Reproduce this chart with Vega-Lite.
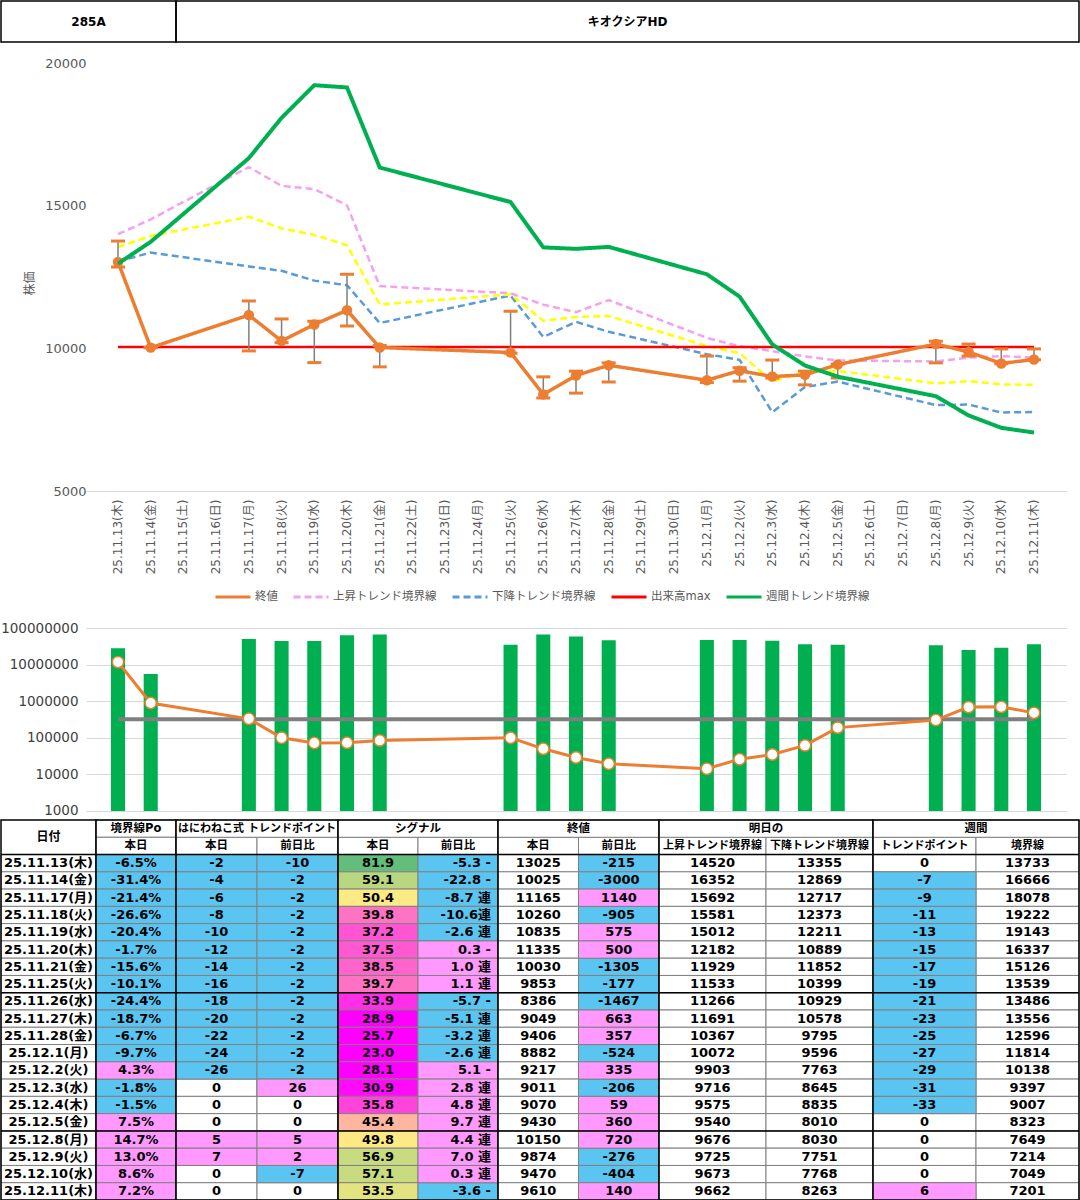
{
"$schema":"https://vega.github.io/schema/vega-lite/v6.json",
"padding":0,
"spacing":0,
"config":{
 "view":{"stroke":null},
 "font":"DejaVu Sans, Noto Sans CJK JP",
 "text":{"font":"DejaVu Sans, Noto Sans CJK JP","fontSize":13,"fontWeight":"bold","color":"#000000"},
 "axis":{"labelFont":"DejaVu Sans, Noto Sans CJK JP","titleFont":"DejaVu Sans, Noto Sans CJK JP"},
 "legend":{"labelFont":"DejaVu Sans, Noto Sans CJK JP"}
},
"datasets":{
 "px":[
  {"d":"25.11.13(木)","終値":13025,"上昇トレンド境界線":14000,"下降トレンド境界線":13050,"中値":13550,"出来高max":10050,"週間トレンド境界線":12967,"hi":13760,"lo":12850,"vol":28000000,"vl":11700000},
  {"d":"25.11.14(金)","終値":10025,"上昇トレンド境界線":14520,"下降トレンド境界線":13355,"中値":13938,"出来高max":10050,"週間トレンド境界線":13733,"hi":10025,"lo":10025,"vol":5500000,"vl":890000},
  {"d":"25.11.17(月)","終値":11165,"上昇トレンド境界線":16352,"下降トレンド境界線":12869,"中値":14611,"出来高max":10050,"週間トレンド境界線":16666,"hi":11660,"lo":9910,"vol":50000000,"vl":330000},
  {"d":"25.11.18(火)","終値":10260,"上昇トレンド境界線":15692,"下降トレンド境界線":12717,"中値":14205,"出来高max":10050,"週間トレンド境界線":18078,"hi":11030,"lo":10200,"vol":44000000,"vl":100000},
  {"d":"25.11.19(水)","終値":10835,"上昇トレンド境界線":15581,"下降トレンド境界線":12373,"中値":13977,"出来高max":10050,"週間トレンド境界線":19222,"hi":10950,"lo":9500,"vol":44000000,"vl":72000},
  {"d":"25.11.20(木)","終値":11335,"上昇トレンド境界線":15012,"下降トレンド境界線":12211,"中値":13612,"出来高max":10050,"週間トレンド境界線":19143,"hi":12600,"lo":10780,"vol":63000000,"vl":73000},
  {"d":"25.11.21(金)","終値":10030,"上昇トレンド境界線":12182,"下降トレンド境界線":10889,"中値":11536,"出来高max":10050,"週間トレンド境界線":16337,"hi":10100,"lo":9350,"vol":66000000,"vl":85000},
  {"d":"25.11.25(火)","終値":9853,"上昇トレンド境界線":11929,"下降トレンド境界線":11852,"中値":11891,"出来高max":10050,"週間トレンド境界線":15126,"hi":11300,"lo":9830,"vol":35000000,"vl":100000},
  {"d":"25.11.26(水)","終値":8386,"上昇トレンド境界線":11533,"下降トレンド境界線":10399,"中値":10966,"出来高max":10050,"週間トレンド境界線":13539,"hi":9000,"lo":8260,"vol":66000000,"vl":50000},
  {"d":"25.11.27(木)","終値":9049,"上昇トレンド境界線":11266,"下降トレンド境界線":10929,"中値":11098,"出来高max":10050,"週間トレンド境界線":13486,"hi":9200,"lo":8430,"vol":59000000,"vl":29000},
  {"d":"25.11.28(金)","終値":9406,"上昇トレンド境界線":11691,"下降トレンド境界線":10578,"中値":11135,"出来高max":10050,"週間トレンド境界線":13556,"hi":9490,"lo":8820,"vol":46000000,"vl":19500},
  {"d":"25.12.1(月)","終値":8882,"上昇トレンド境界線":10367,"下降トレンド境界線":9795,"中値":10081,"出来高max":10050,"週間トレンド境界線":12596,"hi":9730,"lo":8800,"vol":47000000,"vl":14300},
  {"d":"25.12.2(火)","終値":9217,"上昇トレンド境界線":10072,"下降トレンド境界線":9596,"中値":9834,"出来高max":10050,"週間トレンド境界線":11814,"hi":9320,"lo":8850,"vol":47000000,"vl":26000},
  {"d":"25.12.3(水)","終値":9011,"上昇トレンド境界線":9903,"下降トレンド境界線":7763,"中値":8833,"出来高max":10050,"週間トレンド境界線":10138,"hi":9590,"lo":8960,"vol":45000000,"vl":35000},
  {"d":"25.12.4(木)","終値":9070,"上昇トレンド境界線":9716,"下降トレンド境界線":8645,"中値":9181,"出来高max":10050,"週間トレンド境界線":9397,"hi":9200,"lo":8720,"vol":36000000,"vl":62000},
  {"d":"25.12.5(金)","終値":9430,"上昇トレンド境界線":9575,"下降トレンド境界線":8835,"中値":9205,"出来高max":10050,"週間トレンド境界線":9007,"hi":9450,"lo":8960,"vol":35000000,"vl":190000},
  {"d":"25.12.8(月)","終値":10150,"上昇トレンド境界線":9540,"下降トレンド境界線":8010,"中値":8775,"出来高max":10050,"週間トレンド境界線":8323,"hi":10250,"lo":9490,"vol":34000000,"vl":306000},
  {"d":"25.12.9(火)","終値":9874,"上昇トレンド境界線":9676,"下降トレンド境界線":8030,"中値":8853,"出来高max":10050,"週間トレンド境界線":7649,"hi":10150,"lo":9730,"vol":25000000,"vl":690000},
  {"d":"25.12.10(水)","終値":9470,"上昇トレンド境界線":9725,"下降トレンド境界線":7751,"中値":8738,"出来高max":10050,"週間トレンド境界線":7214,"hi":9980,"lo":9460,"vol":29000000,"vl":700000},
  {"d":"25.12.11(木)","終値":9610,"上昇トレンド境界線":9673,"下降トレンド境界線":7768,"中値":8721,"出来高max":10050,"週間トレンド境界線":7049,"hi":9980,"lo":9600,"vol":36000000,"vl":480000}
 ],
 "tb":[
  {"i":1,"d":"25.11.13(木)","po":"-6.5%","hn":-2,"hd":-10,"sg":81.9,"sd":"-5.3 -","cl":13025,"cd":-215,"up":14520,"dn":13355,"wt":0,"wl":13733},
  {"i":2,"d":"25.11.14(金)","po":"-31.4%","hn":-4,"hd":-2,"sg":59.1,"sd":"-22.8 -","cl":10025,"cd":-3000,"up":16352,"dn":12869,"wt":-7,"wl":16666},
  {"i":3,"d":"25.11.17(月)","po":"-21.4%","hn":-6,"hd":-2,"sg":50.4,"sd":"-8.7 連","cl":11165,"cd":1140,"up":15692,"dn":12717,"wt":-9,"wl":18078},
  {"i":4,"d":"25.11.18(火)","po":"-26.6%","hn":-8,"hd":-2,"sg":39.8,"sd":"-10.6連","cl":10260,"cd":-905,"up":15581,"dn":12373,"wt":-11,"wl":19222},
  {"i":5,"d":"25.11.19(水)","po":"-20.4%","hn":-10,"hd":-2,"sg":37.2,"sd":"-2.6 連","cl":10835,"cd":575,"up":15012,"dn":12211,"wt":-13,"wl":19143},
  {"i":6,"d":"25.11.20(木)","po":"-1.7%","hn":-12,"hd":-2,"sg":37.5,"sd":"0.3 -","cl":11335,"cd":500,"up":12182,"dn":10889,"wt":-15,"wl":16337},
  {"i":7,"d":"25.11.21(金)","po":"-15.6%","hn":-14,"hd":-2,"sg":38.5,"sd":"1.0 連","cl":10030,"cd":-1305,"up":11929,"dn":11852,"wt":-17,"wl":15126},
  {"i":8,"d":"25.11.25(火)","po":"-10.1%","hn":-16,"hd":-2,"sg":39.7,"sd":"1.1 連","cl":9853,"cd":-177,"up":11533,"dn":10399,"wt":-19,"wl":13539},
  {"i":9,"d":"25.11.26(水)","po":"-24.4%","hn":-18,"hd":-2,"sg":33.9,"sd":"-5.7 -","cl":8386,"cd":-1467,"up":11266,"dn":10929,"wt":-21,"wl":13486},
  {"i":10,"d":"25.11.27(木)","po":"-18.7%","hn":-20,"hd":-2,"sg":28.9,"sd":"-5.1 連","cl":9049,"cd":663,"up":11691,"dn":10578,"wt":-23,"wl":13556},
  {"i":11,"d":"25.11.28(金)","po":"-6.7%","hn":-22,"hd":-2,"sg":25.7,"sd":"-3.2 連","cl":9406,"cd":357,"up":10367,"dn":9795,"wt":-25,"wl":12596},
  {"i":12,"d":"25.12.1(月)","po":"-9.7%","hn":-24,"hd":-2,"sg":23.0,"sd":"-2.6 連","cl":8882,"cd":-524,"up":10072,"dn":9596,"wt":-27,"wl":11814},
  {"i":13,"d":"25.12.2(火)","po":"4.3%","hn":-26,"hd":-2,"sg":28.1,"sd":"5.1 -","cl":9217,"cd":335,"up":9903,"dn":7763,"wt":-29,"wl":10138},
  {"i":14,"d":"25.12.3(水)","po":"-1.8%","hn":0,"hd":26,"sg":30.9,"sd":"2.8 連","cl":9011,"cd":-206,"up":9716,"dn":8645,"wt":-31,"wl":9397},
  {"i":15,"d":"25.12.4(木)","po":"-1.5%","hn":0,"hd":0,"sg":35.8,"sd":"4.8 連","cl":9070,"cd":59,"up":9575,"dn":8835,"wt":-33,"wl":9007},
  {"i":16,"d":"25.12.5(金)","po":"7.5%","hn":0,"hd":0,"sg":45.4,"sd":"9.7 連","cl":9430,"cd":360,"up":9540,"dn":8010,"wt":0,"wl":8323},
  {"i":17,"d":"25.12.8(月)","po":"14.7%","hn":5,"hd":5,"sg":49.8,"sd":"4.4 連","cl":10150,"cd":720,"up":9676,"dn":8030,"wt":0,"wl":7649},
  {"i":18,"d":"25.12.9(火)","po":"13.0%","hn":7,"hd":2,"sg":56.9,"sd":"7.0 連","cl":9874,"cd":-276,"up":9725,"dn":7751,"wt":0,"wl":7214},
  {"i":19,"d":"25.12.10(水)","po":"8.6%","hn":0,"hd":-7,"sg":57.1,"sd":"0.3 連","cl":9470,"cd":-404,"up":9673,"dn":7768,"wt":0,"wl":7049},
  {"i":20,"d":"25.12.11(木)","po":"7.2%","hn":0,"hd":0,"sg":53.5,"sd":"-3.6 -","cl":9610,"cd":140,"up":9662,"dn":8263,"wt":6,"wl":7201}
 ],
 "hd":[
  {"g":"A","r":0,"t":"日付"},
  {"g":"B1","r":-1,"t":"境界線Po"},{"g":"B1","r":0,"t":"本日"},
  {"g":"B2","r":-1,"t":"はにわねこ式 トレンドポイント"},{"g":"B2","r":0,"c":"hn","t":"本日"},{"g":"B2","r":0,"c":"hd","t":"前日比"},
  {"g":"B3","r":-1,"t":"シグナル"},{"g":"B3","r":0,"c":"sg","t":"本日"},{"g":"B3","r":0,"c":"sd","t":"前日比"},
  {"g":"B4","r":-1,"t":"終値"},{"g":"B4","r":0,"c":"cl","t":"本日"},{"g":"B4","r":0,"c":"cd","t":"前日比"},
  {"g":"C","r":-1,"t":"明日の"},{"g":"C","r":0,"c":"up","t":"上昇トレンド境界線"},{"g":"C","r":0,"c":"dn","t":"下降トレンド境界線"},
  {"g":"D","r":-1,"t":"週間"},{"g":"D","r":0,"c":"wt","t":"トレンドポイント"},{"g":"D","r":0,"c":"wl","t":"境界線"}
 ],
 "sep":[{"r":1},{"r":9},{"r":17}]
},
"vconcat":[
 {"hconcat":[
   {"width":175,"height":41,"layer":[
     {"data":{"values":[{"t":"285A"}]},"mark":{"type":"text","fontSize":12},"encoding":{"text":{"field":"t","type":"nominal"}}},
     {"data":{"values":[{}]},"mark":{"type":"rect","filled":false,"stroke":"#000000","strokeWidth":1.5},"encoding":{}}
   ]},
   {"width":903,"height":41,"layer":[
     {"data":{"values":[{"t":"キオクシアHD"}]},"mark":{"type":"text","fontSize":12},"encoding":{"text":{"field":"t","type":"nominal"}}},
     {"data":{"values":[{}]},"mark":{"type":"rect","filled":false,"stroke":"#000000","strokeWidth":1.5},"encoding":{}}
   ]}
 ],"spacing":0,"bounds":"flush"},
 {"hconcat":[
 {"width":85,"height":10,"data":{"values":[{}]},"mark":{"type":"rect","opacity":0},"encoding":{}},
 {"vconcat":[
  {"width":980,"height":448,"data":{"name":"px"},
   "encoding":{"x":{"field":"d","type":"nominal","scale":{"type":"band","domain":["25.11.13(木)","25.11.14(金)","25.11.15(土)","25.11.16(日)","25.11.17(月)","25.11.18(火)","25.11.19(水)","25.11.20(木)","25.11.21(金)","25.11.22(土)","25.11.23(日)","25.11.24(月)","25.11.25(火)","25.11.26(水)","25.11.27(木)","25.11.28(金)","25.11.29(土)","25.11.30(日)","25.12.1(月)","25.12.2(火)","25.12.3(水)","25.12.4(木)","25.12.5(金)","25.12.6(土)","25.12.7(日)","25.12.8(月)","25.12.9(火)","25.12.10(水)","25.12.11(木)"],"paddingInner":0.57,"paddingOuter":0.7634,"round":false},"axis":{"title":null,"labelAngle":-90,"ticks":false,"domain":true,"domainColor":"#D9D9D9","labelPadding":8,"labelFontSize":12,"labelColor":"#595959","labelOverlap":false}}},
   "layer":[
    {"transform":[{"fold":["上昇トレンド境界線","下降トレンド境界線","中値","出来高max"],"as":["s","v"]}],
     "mark":{"type":"line","strokeWidth":2.5},
     "encoding":{"y":{"field":"v","type":"quantitative","scale":{"domain":[5000,20701],"nice":false,"zero":false},"axis":{"title":"株価","values":[5000,10000,15000,20000],"format":"d","grid":false,"ticks":false,"domain":false,"labelPadding":0,"labelFontSize":13,"labelColor":"#595959","titleFontSize":12,"titleColor":"#595959","titleFontWeight":"normal","titleX":-57,"titleY":240,"titleAngle":-90,"titleAlign":"center","titleBaseline":"middle"}},
      "color":{"field":"s","type":"nominal","scale":{"domain":["終値","上昇トレンド境界線","下降トレンド境界線","出来高max","週間トレンド境界線","中値"],"range":["#ED7D31","#F5A0F0","#5B9BD5","#FF0000","#00B050","#FFFF00"]},"legend":null},
      "strokeDash":{"field":"s","type":"nominal","scale":{"domain":["終値","上昇トレンド境界線","下降トレンド境界線","出来高max","週間トレンド境界線","中値"],"range":[[1,0],[7,4],[7,4],[1,0],[1,0],[7,4]]},"legend":{"values":["終値","上昇トレンド境界線","下降トレンド境界線","出来高max","週間トレンド境界線"],"orient":"none","legendX":213,"legendY":577,"direction":"horizontal","columns":5,"title":null,"symbolType":"stroke","symbolSize":1225,"symbolStrokeWidth":3,"labelFontSize":11.5,"labelColor":"#595959","columnPadding":9,"labelOffset":3,"padding":0,
        "encode":{"symbols":{"update":{"stroke":{"signal":"datum.value==='終値'?'#ED7D31':datum.value==='上昇トレンド境界線'?'#F5A0F0':datum.value==='下降トレンド境界線'?'#5B9BD5':datum.value==='出来高max'?'#FF0000':'#00B050'"}}}}}},
      "order":{"value":null}}},
    {"mark":{"type":"rule","color":"#7F7F7F","strokeWidth":1.5},
     "encoding":{"y":{"field":"lo","type":"quantitative","scale":{"domain":[5000,20701],"nice":false,"zero":false},"axis":{"title":"株価","values":[5000,10000,15000,20000],"format":"d","grid":false,"ticks":false,"domain":false,"labelPadding":0,"labelFontSize":13,"labelColor":"#595959","titleFontSize":12,"titleColor":"#595959","titleFontWeight":"normal","titleX":-57,"titleY":240,"titleAngle":-90,"titleAlign":"center","titleBaseline":"middle"}},"y2":{"field":"hi"}}},
    {"transform":[{"fold":["終値"],"as":["s","v"]}],
     "mark":{"type":"line","strokeWidth":3.5},
     "encoding":{"y":{"field":"v","type":"quantitative","scale":{"domain":[5000,20701],"nice":false,"zero":false},"axis":{"title":"株価","values":[5000,10000,15000,20000],"format":"d","grid":false,"ticks":false,"domain":false,"labelPadding":0,"labelFontSize":13,"labelColor":"#595959","titleFontSize":12,"titleColor":"#595959","titleFontWeight":"normal","titleX":-57,"titleY":240,"titleAngle":-90,"titleAlign":"center","titleBaseline":"middle"}},
      "color":{"field":"s","type":"nominal","scale":{"domain":["終値","上昇トレンド境界線","下降トレンド境界線","出来高max","週間トレンド境界線","中値"],"range":["#ED7D31","#F5A0F0","#5B9BD5","#FF0000","#00B050","#FFFF00"]},"legend":null},
      "strokeDash":{"field":"s","type":"nominal","scale":{"domain":["終値","上昇トレンド境界線","下降トレンド境界線","出来高max","週間トレンド境界線","中値"],"range":[[1,0],[7,4],[7,4],[1,0],[1,0],[7,4]]}},
      "order":{"value":null}}},
    {"transform":[{"fold":["hi","lo"],"as":["cap","cv"]}],
     "mark":{"type":"tick","color":"#ED7D31","thickness":3,"size":14,"opacity":1},
     "encoding":{"y":{"field":"cv","type":"quantitative","scale":{"domain":[5000,20701],"nice":false,"zero":false},"axis":{"title":"株価","values":[5000,10000,15000,20000],"format":"d","grid":false,"ticks":false,"domain":false,"labelPadding":0,"labelFontSize":13,"labelColor":"#595959","titleFontSize":12,"titleColor":"#595959","titleFontWeight":"normal","titleX":-57,"titleY":240,"titleAngle":-90,"titleAlign":"center","titleBaseline":"middle"}}}},
    {"mark":{"type":"point","filled":true,"color":"#ED7D31","size":110,"opacity":1},
     "encoding":{"y":{"field":"終値","type":"quantitative","scale":{"domain":[5000,20701],"nice":false,"zero":false},"axis":{"title":"株価","values":[5000,10000,15000,20000],"format":"d","grid":false,"ticks":false,"domain":false,"labelPadding":0,"labelFontSize":13,"labelColor":"#595959","titleFontSize":12,"titleColor":"#595959","titleFontWeight":"normal","titleX":-57,"titleY":240,"titleAngle":-90,"titleAlign":"center","titleBaseline":"middle"}}}},
    {"transform":[{"fold":["週間トレンド境界線"],"as":["s","v"]}],
     "mark":{"type":"line","strokeWidth":4},
     "encoding":{"y":{"field":"v","type":"quantitative","scale":{"domain":[5000,20701],"nice":false,"zero":false},"axis":{"title":"株価","values":[5000,10000,15000,20000],"format":"d","grid":false,"ticks":false,"domain":false,"labelPadding":0,"labelFontSize":13,"labelColor":"#595959","titleFontSize":12,"titleColor":"#595959","titleFontWeight":"normal","titleX":-57,"titleY":240,"titleAngle":-90,"titleAlign":"center","titleBaseline":"middle"}},
      "color":{"field":"s","type":"nominal","scale":{"domain":["終値","上昇トレンド境界線","下降トレンド境界線","出来高max","週間トレンド境界線","中値"],"range":["#ED7D31","#F5A0F0","#5B9BD5","#FF0000","#00B050","#FFFF00"]},"legend":null},
      "strokeDash":{"field":"s","type":"nominal","scale":{"domain":["終値","上昇トレンド境界線","下降トレンド境界線","出来高max","週間トレンド境界線","中値"],"range":[[1,0],[7,4],[7,4],[1,0],[1,0],[7,4]]}},
      "order":{"value":null}}}
   ]},
  {"width":980,"height":206,"data":{"name":"px"},
   "encoding":{"x":{"field":"d","type":"nominal","scale":{"type":"band","domain":["25.11.13(木)","25.11.14(金)","25.11.15(土)","25.11.16(日)","25.11.17(月)","25.11.18(火)","25.11.19(水)","25.11.20(木)","25.11.21(金)","25.11.22(土)","25.11.23(日)","25.11.24(月)","25.11.25(火)","25.11.26(水)","25.11.27(木)","25.11.28(金)","25.11.29(土)","25.11.30(日)","25.12.1(月)","25.12.2(火)","25.12.3(水)","25.12.4(木)","25.12.5(金)","25.12.6(土)","25.12.7(日)","25.12.8(月)","25.12.9(火)","25.12.10(水)","25.12.11(木)"],"paddingInner":0.57,"paddingOuter":0.7634,"round":false},"axis":null}},
   "layer":[
    {"mark":{"type":"bar","color":"#00B050"},
     "encoding":{"y":{"field":"vol","type":"quantitative","scale":{"type":"log","domain":[604.4,257000000],"nice":false},"axis":{"values":[1000,10000,100000,1000000,10000000,100000000],"format":"d","grid":true,"gridColor":"#D9D9D9","ticks":false,"domain":false,"labelPadding":8,"labelFontSize":13.5,"labelColor":"#404040","title":null}},"y2":{"datum":1000}}},
    {"data":{"values":[{}]},"mark":{"type":"rule","color":"#7F7F7F","strokeWidth":4},
     "encoding":{"x":{"datum":"25.11.13(木)","type":"nominal","scale":{"type":"band","domain":["25.11.13(木)","25.11.14(金)","25.11.15(土)","25.11.16(日)","25.11.17(月)","25.11.18(火)","25.11.19(水)","25.11.20(木)","25.11.21(金)","25.11.22(土)","25.11.23(日)","25.11.24(月)","25.11.25(火)","25.11.26(水)","25.11.27(木)","25.11.28(金)","25.11.29(土)","25.11.30(日)","25.12.1(月)","25.12.2(火)","25.12.3(水)","25.12.4(木)","25.12.5(金)","25.12.6(土)","25.12.7(日)","25.12.8(月)","25.12.9(火)","25.12.10(水)","25.12.11(木)"],"paddingInner":0.57,"paddingOuter":0.7634,"round":false},"axis":null},
      "x2":{"datum":"25.12.11(木)"},
      "y":{"datum":320000,"type":"quantitative","scale":{"type":"log","domain":[604.4,257000000],"nice":false},"axis":{"values":[1000,10000,100000,1000000,10000000,100000000],"format":"d","grid":true,"gridColor":"#D9D9D9","ticks":false,"domain":false,"labelPadding":8,"labelFontSize":13.5,"labelColor":"#404040","title":null}}}},
    {"mark":{"type":"line","color":"#ED7D31","strokeWidth":3},
     "encoding":{"y":{"field":"vl","type":"quantitative","scale":{"type":"log","domain":[604.4,257000000],"nice":false},"axis":{"values":[1000,10000,100000,1000000,10000000,100000000],"format":"d","grid":true,"gridColor":"#D9D9D9","ticks":false,"domain":false,"labelPadding":8,"labelFontSize":13.5,"labelColor":"#404040","title":null}},"order":{"value":null}}},
    {"mark":{"type":"point","filled":true,"fill":"#FFFFFF","stroke":"#ED7D31","strokeWidth":1.5,"size":130,"opacity":1},
     "encoding":{"y":{"field":"vl","type":"quantitative","scale":{"type":"log","domain":[604.4,257000000],"nice":false},"axis":{"values":[1000,10000,100000,1000000,10000000,100000000],"format":"d","grid":true,"gridColor":"#D9D9D9","ticks":false,"domain":false,"labelPadding":8,"labelFontSize":13.5,"labelColor":"#404040","title":null}}}}
   ]}
 ],"spacing":122,"bounds":"flush"}
 ],"spacing":0,"bounds":"flush"},
 {"hconcat":[
   {"width":95,"height":380,"layer":[
     {"data":{"name":"tb"},"mark":{"type":"rect","fill":"#FFFFFF","stroke":"#808080","strokeWidth":1},"encoding":{"y":{"field":"i","type":"ordinal","scale":{"domain":[-1,0,1,2,3,4,5,6,7,8,9,10,11,12,13,14,15,16,17,18,19,20],"paddingInner":0,"paddingOuter":0},"axis":null}}},
     {"data":{"name":"tb"},"mark":{"type":"text"},"encoding":{"y":{"field":"i","type":"ordinal","scale":{"domain":[-1,0,1,2,3,4,5,6,7,8,9,10,11,12,13,14,15,16,17,18,19,20],"paddingInner":0,"paddingOuter":0},"axis":null},"text":{"field":"d","type":"nominal"}}},
     {"data":{"name":"hd"},"transform":[{"filter":"datum.g==='A'"}],"mark":{"type":"text","fontSize":12},"encoding":{"y":{"field":"r","type":"ordinal","bandPosition":0,"scale":{"domain":[-1,0,1,2,3,4,5,6,7,8,9,10,11,12,13,14,15,16,17,18,19,20],"paddingInner":0,"paddingOuter":0},"axis":null},"text":{"field":"t","type":"nominal"}}},
     {"data":{"name":"sep"},"mark":{"type":"rule","color":"#000000","strokeWidth":1.5},"encoding":{"y":{"field":"r","type":"ordinal","bandPosition":0,"scale":{"domain":[-1,0,1,2,3,4,5,6,7,8,9,10,11,12,13,14,15,16,17,18,19,20],"paddingInner":0,"paddingOuter":0},"axis":null}}},
     {"data":{"values":[{}]},"mark":{"type":"rect","filled":false,"stroke":"#000000","strokeWidth":1.5},"encoding":{}}
   ]},
   {"width":80,"height":380,"layer":[
     {"data":{"name":"tb"},"transform":[{"filter":"parseFloat(datum.po)<0"}],"mark":{"type":"rect","fill":"#5BC5F2","stroke":"#808080","strokeWidth":1},"encoding":{"y":{"field":"i","type":"ordinal","scale":{"domain":[-1,0,1,2,3,4,5,6,7,8,9,10,11,12,13,14,15,16,17,18,19,20],"paddingInner":0,"paddingOuter":0},"axis":null}}},
     {"data":{"name":"tb"},"transform":[{"filter":"parseFloat(datum.po)>0"}],"mark":{"type":"rect","fill":"#FF99FF","stroke":"#808080","strokeWidth":1},"encoding":{"y":{"field":"i","type":"ordinal","scale":{"domain":[-1,0,1,2,3,4,5,6,7,8,9,10,11,12,13,14,15,16,17,18,19,20],"paddingInner":0,"paddingOuter":0},"axis":null}}},
     {"data":{"name":"hd"},"transform":[{"filter":"datum.g==='B1'"}],"mark":{"type":"rect","fill":"#FFFFFF","stroke":"#808080","strokeWidth":1},"encoding":{"y":{"field":"r","type":"ordinal","scale":{"domain":[-1,0,1,2,3,4,5,6,7,8,9,10,11,12,13,14,15,16,17,18,19,20],"paddingInner":0,"paddingOuter":0},"axis":null}}},
     {"data":{"name":"hd"},"transform":[{"filter":"datum.g==='B1'"}],"mark":{"type":"text","fontSize":11.5},"encoding":{"y":{"field":"r","type":"ordinal","scale":{"domain":[-1,0,1,2,3,4,5,6,7,8,9,10,11,12,13,14,15,16,17,18,19,20],"paddingInner":0,"paddingOuter":0},"axis":null},"text":{"field":"t","type":"nominal"}}},
     {"data":{"name":"tb"},"mark":{"type":"text"},"encoding":{"y":{"field":"i","type":"ordinal","scale":{"domain":[-1,0,1,2,3,4,5,6,7,8,9,10,11,12,13,14,15,16,17,18,19,20],"paddingInner":0,"paddingOuter":0},"axis":null},"text":{"field":"po","type":"nominal"}}},
     {"data":{"name":"sep"},"mark":{"type":"rule","color":"#000000","strokeWidth":1.5},"encoding":{"y":{"field":"r","type":"ordinal","bandPosition":0,"scale":{"domain":[-1,0,1,2,3,4,5,6,7,8,9,10,11,12,13,14,15,16,17,18,19,20],"paddingInner":0,"paddingOuter":0},"axis":null}}},
     {"data":{"values":[{}]},"mark":{"type":"rect","filled":false,"stroke":"#000000","strokeWidth":1.5},"encoding":{}}
   ]},
   {"width":162,"height":380,"layer":[
     {"data":{"name":"tb"},"transform":[{"fold":["hn","hd"],"as":["k","t"]}],"mark":{"type":"rect","fill":"#FFFFFF","stroke":"#808080","strokeWidth":1},"encoding":{"x":{"field":"k","type":"nominal","scale":{"domain":["hn","hd"],"paddingInner":0,"paddingOuter":0},"axis":null},"y":{"field":"i","type":"ordinal","scale":{"domain":[-1,0,1,2,3,4,5,6,7,8,9,10,11,12,13,14,15,16,17,18,19,20],"paddingInner":0,"paddingOuter":0},"axis":null}}},
     {"data":{"name":"tb"},"transform":[{"fold":["hn","hd"],"as":["k","t"]},{"filter":"parseFloat(datum.t)<0"}],"mark":{"type":"rect","fill":"#5BC5F2","stroke":"#808080","strokeWidth":1},"encoding":{"x":{"field":"k","type":"nominal","scale":{"domain":["hn","hd"],"paddingInner":0,"paddingOuter":0},"axis":null},"y":{"field":"i","type":"ordinal","scale":{"domain":[-1,0,1,2,3,4,5,6,7,8,9,10,11,12,13,14,15,16,17,18,19,20],"paddingInner":0,"paddingOuter":0},"axis":null}}},
     {"data":{"name":"tb"},"transform":[{"fold":["hn","hd"],"as":["k","t"]},{"filter":"parseFloat(datum.t)>0"}],"mark":{"type":"rect","fill":"#FF99FF","stroke":"#808080","strokeWidth":1},"encoding":{"x":{"field":"k","type":"nominal","scale":{"domain":["hn","hd"],"paddingInner":0,"paddingOuter":0},"axis":null},"y":{"field":"i","type":"ordinal","scale":{"domain":[-1,0,1,2,3,4,5,6,7,8,9,10,11,12,13,14,15,16,17,18,19,20],"paddingInner":0,"paddingOuter":0},"axis":null}}},
     {"data":{"name":"hd"},"transform":[{"filter":"datum.g==='B2'&&datum.r===0"}],"mark":{"type":"rect","fill":"#FFFFFF","stroke":"#808080","strokeWidth":1},"encoding":{"x":{"field":"c","type":"nominal","scale":{"domain":["hn","hd"],"paddingInner":0,"paddingOuter":0},"axis":null},"y":{"field":"r","type":"ordinal","scale":{"domain":[-1,0,1,2,3,4,5,6,7,8,9,10,11,12,13,14,15,16,17,18,19,20],"paddingInner":0,"paddingOuter":0},"axis":null}}},
     {"data":{"name":"hd"},"transform":[{"filter":"datum.g==='B2'&&datum.r===-1"}],"mark":{"type":"rect","fill":"#FFFFFF","stroke":"#808080","strokeWidth":1},"encoding":{"y":{"field":"r","type":"ordinal","scale":{"domain":[-1,0,1,2,3,4,5,6,7,8,9,10,11,12,13,14,15,16,17,18,19,20],"paddingInner":0,"paddingOuter":0},"axis":null}}},
     {"data":{"name":"hd"},"transform":[{"filter":"datum.g==='B2'&&datum.r===0"}],"mark":{"type":"text","fontSize":11.5},"encoding":{"x":{"field":"c","type":"nominal","scale":{"domain":["hn","hd"],"paddingInner":0,"paddingOuter":0},"axis":null},"y":{"field":"r","type":"ordinal","scale":{"domain":[-1,0,1,2,3,4,5,6,7,8,9,10,11,12,13,14,15,16,17,18,19,20],"paddingInner":0,"paddingOuter":0},"axis":null},"text":{"field":"t","type":"nominal"}}},
     {"data":{"name":"hd"},"transform":[{"filter":"datum.g==='B2'&&datum.r===-1"}],"mark":{"type":"text","fontSize":11},"encoding":{"y":{"field":"r","type":"ordinal","scale":{"domain":[-1,0,1,2,3,4,5,6,7,8,9,10,11,12,13,14,15,16,17,18,19,20],"paddingInner":0,"paddingOuter":0},"axis":null},"text":{"field":"t","type":"nominal"}}},
     {"data":{"name":"tb"},"transform":[{"fold":["hn","hd"],"as":["k","t"]}],"mark":{"type":"text"},"encoding":{"x":{"field":"k","type":"nominal","scale":{"domain":["hn","hd"],"paddingInner":0,"paddingOuter":0},"axis":null},"y":{"field":"i","type":"ordinal","scale":{"domain":[-1,0,1,2,3,4,5,6,7,8,9,10,11,12,13,14,15,16,17,18,19,20],"paddingInner":0,"paddingOuter":0},"axis":null},"text":{"field":"t","type":"nominal"}}},
     {"data":{"name":"sep"},"mark":{"type":"rule","color":"#000000","strokeWidth":1.5},"encoding":{"y":{"field":"r","type":"ordinal","bandPosition":0,"scale":{"domain":[-1,0,1,2,3,4,5,6,7,8,9,10,11,12,13,14,15,16,17,18,19,20],"paddingInner":0,"paddingOuter":0},"axis":null}}},
     {"data":{"values":[{}]},"mark":{"type":"rect","filled":false,"stroke":"#000000","strokeWidth":1.5},"encoding":{}}
   ]},
   {"width":160,"height":380,"layer":[
     {"data":{"name":"tb"},"transform":[{"fold":["sg"],"as":["k","t"]}],"mark":{"type":"rect","stroke":"#808080","strokeWidth":1},"encoding":{"x":{"field":"k","type":"nominal","scale":{"domain":["sg","sd"],"paddingInner":0,"paddingOuter":0},"axis":null},"y":{"field":"i","type":"ordinal","scale":{"domain":[-1,0,1,2,3,4,5,6,7,8,9,10,11,12,13,14,15,16,17,18,19,20],"paddingInner":0,"paddingOuter":0},"axis":null},"color":{"field":"t","type":"quantitative","scale":{"domain":[30,50,70],"range":["#FF00FF","#FFEB84","#63BE7B"],"interpolate":"rgb","clamp":true},"legend":null}}},
     {"data":{"name":"tb"},"transform":[{"fold":["sd"],"as":["k","t"]},{"filter":"parseFloat(datum.t)<0"}],"mark":{"type":"rect","fill":"#5BC5F2","stroke":"#808080","strokeWidth":1},"encoding":{"x":{"field":"k","type":"nominal","scale":{"domain":["sg","sd"],"paddingInner":0,"paddingOuter":0},"axis":null},"y":{"field":"i","type":"ordinal","scale":{"domain":[-1,0,1,2,3,4,5,6,7,8,9,10,11,12,13,14,15,16,17,18,19,20],"paddingInner":0,"paddingOuter":0},"axis":null}}},
     {"data":{"name":"tb"},"transform":[{"fold":["sd"],"as":["k","t"]},{"filter":"parseFloat(datum.t)>0"}],"mark":{"type":"rect","fill":"#FF99FF","stroke":"#808080","strokeWidth":1},"encoding":{"x":{"field":"k","type":"nominal","scale":{"domain":["sg","sd"],"paddingInner":0,"paddingOuter":0},"axis":null},"y":{"field":"i","type":"ordinal","scale":{"domain":[-1,0,1,2,3,4,5,6,7,8,9,10,11,12,13,14,15,16,17,18,19,20],"paddingInner":0,"paddingOuter":0},"axis":null}}},
     {"data":{"name":"hd"},"transform":[{"filter":"datum.g==='B3'&&datum.r===0"}],"mark":{"type":"rect","fill":"#FFFFFF","stroke":"#808080","strokeWidth":1},"encoding":{"x":{"field":"c","type":"nominal","scale":{"domain":["sg","sd"],"paddingInner":0,"paddingOuter":0},"axis":null},"y":{"field":"r","type":"ordinal","scale":{"domain":[-1,0,1,2,3,4,5,6,7,8,9,10,11,12,13,14,15,16,17,18,19,20],"paddingInner":0,"paddingOuter":0},"axis":null}}},
     {"data":{"name":"hd"},"transform":[{"filter":"datum.g==='B3'&&datum.r===-1"}],"mark":{"type":"rect","fill":"#FFFFFF","stroke":"#808080","strokeWidth":1},"encoding":{"y":{"field":"r","type":"ordinal","scale":{"domain":[-1,0,1,2,3,4,5,6,7,8,9,10,11,12,13,14,15,16,17,18,19,20],"paddingInner":0,"paddingOuter":0},"axis":null}}},
     {"data":{"name":"hd"},"transform":[{"filter":"datum.g==='B3'&&datum.r===0"}],"mark":{"type":"text","fontSize":11.5},"encoding":{"x":{"field":"c","type":"nominal","scale":{"domain":["sg","sd"],"paddingInner":0,"paddingOuter":0},"axis":null},"y":{"field":"r","type":"ordinal","scale":{"domain":[-1,0,1,2,3,4,5,6,7,8,9,10,11,12,13,14,15,16,17,18,19,20],"paddingInner":0,"paddingOuter":0},"axis":null},"text":{"field":"t","type":"nominal"}}},
     {"data":{"name":"hd"},"transform":[{"filter":"datum.g==='B3'&&datum.r===-1"}],"mark":{"type":"text","fontSize":11.5},"encoding":{"y":{"field":"r","type":"ordinal","scale":{"domain":[-1,0,1,2,3,4,5,6,7,8,9,10,11,12,13,14,15,16,17,18,19,20],"paddingInner":0,"paddingOuter":0},"axis":null},"text":{"field":"t","type":"nominal"}}},
     {"data":{"name":"tb"},"transform":[{"fold":["sg"],"as":["k","t"]}],"mark":{"type":"text"},"encoding":{"x":{"field":"k","type":"nominal","scale":{"domain":["sg","sd"],"paddingInner":0,"paddingOuter":0},"axis":null},"y":{"field":"i","type":"ordinal","scale":{"domain":[-1,0,1,2,3,4,5,6,7,8,9,10,11,12,13,14,15,16,17,18,19,20],"paddingInner":0,"paddingOuter":0},"axis":null},"text":{"field":"t","type":"quantitative","format":".1f"}}},
     {"data":{"name":"tb"},"transform":[{"fold":["sd"],"as":["k","t"]}],"mark":{"type":"text","align":"right","dx":-7},"encoding":{"x":{"field":"k","type":"nominal","bandPosition":1,"scale":{"domain":["sg","sd"],"paddingInner":0,"paddingOuter":0},"axis":null},"y":{"field":"i","type":"ordinal","scale":{"domain":[-1,0,1,2,3,4,5,6,7,8,9,10,11,12,13,14,15,16,17,18,19,20],"paddingInner":0,"paddingOuter":0},"axis":null},"text":{"field":"t","type":"nominal"}}},
     {"data":{"name":"sep"},"mark":{"type":"rule","color":"#000000","strokeWidth":1.5},"encoding":{"y":{"field":"r","type":"ordinal","bandPosition":0,"scale":{"domain":[-1,0,1,2,3,4,5,6,7,8,9,10,11,12,13,14,15,16,17,18,19,20],"paddingInner":0,"paddingOuter":0},"axis":null}}},
     {"data":{"values":[{}]},"mark":{"type":"rect","filled":false,"stroke":"#000000","strokeWidth":1.5},"encoding":{}}
   ]},
   {"width":161,"height":380,"layer":[
     {"data":{"name":"tb"},"transform":[{"fold":["cl","cd"],"as":["k","t"]}],"mark":{"type":"rect","fill":"#FFFFFF","stroke":"#808080","strokeWidth":1},"encoding":{"x":{"field":"k","type":"nominal","scale":{"domain":["cl","cd"],"paddingInner":0,"paddingOuter":0},"axis":null},"y":{"field":"i","type":"ordinal","scale":{"domain":[-1,0,1,2,3,4,5,6,7,8,9,10,11,12,13,14,15,16,17,18,19,20],"paddingInner":0,"paddingOuter":0},"axis":null}}},
     {"data":{"name":"tb"},"transform":[{"fold":["cd"],"as":["k","t"]},{"filter":"parseFloat(datum.t)<0"}],"mark":{"type":"rect","fill":"#5BC5F2","stroke":"#808080","strokeWidth":1},"encoding":{"x":{"field":"k","type":"nominal","scale":{"domain":["cl","cd"],"paddingInner":0,"paddingOuter":0},"axis":null},"y":{"field":"i","type":"ordinal","scale":{"domain":[-1,0,1,2,3,4,5,6,7,8,9,10,11,12,13,14,15,16,17,18,19,20],"paddingInner":0,"paddingOuter":0},"axis":null}}},
     {"data":{"name":"tb"},"transform":[{"fold":["cd"],"as":["k","t"]},{"filter":"parseFloat(datum.t)>0"}],"mark":{"type":"rect","fill":"#FF99FF","stroke":"#808080","strokeWidth":1},"encoding":{"x":{"field":"k","type":"nominal","scale":{"domain":["cl","cd"],"paddingInner":0,"paddingOuter":0},"axis":null},"y":{"field":"i","type":"ordinal","scale":{"domain":[-1,0,1,2,3,4,5,6,7,8,9,10,11,12,13,14,15,16,17,18,19,20],"paddingInner":0,"paddingOuter":0},"axis":null}}},
     {"data":{"name":"hd"},"transform":[{"filter":"datum.g==='B4'&&datum.r===0"}],"mark":{"type":"rect","fill":"#FFFFFF","stroke":"#808080","strokeWidth":1},"encoding":{"x":{"field":"c","type":"nominal","scale":{"domain":["cl","cd"],"paddingInner":0,"paddingOuter":0},"axis":null},"y":{"field":"r","type":"ordinal","scale":{"domain":[-1,0,1,2,3,4,5,6,7,8,9,10,11,12,13,14,15,16,17,18,19,20],"paddingInner":0,"paddingOuter":0},"axis":null}}},
     {"data":{"name":"hd"},"transform":[{"filter":"datum.g==='B4'&&datum.r===-1"}],"mark":{"type":"rect","fill":"#FFFFFF","stroke":"#808080","strokeWidth":1},"encoding":{"y":{"field":"r","type":"ordinal","scale":{"domain":[-1,0,1,2,3,4,5,6,7,8,9,10,11,12,13,14,15,16,17,18,19,20],"paddingInner":0,"paddingOuter":0},"axis":null}}},
     {"data":{"name":"hd"},"transform":[{"filter":"datum.g==='B4'&&datum.r===0"}],"mark":{"type":"text","fontSize":11.5},"encoding":{"x":{"field":"c","type":"nominal","scale":{"domain":["cl","cd"],"paddingInner":0,"paddingOuter":0},"axis":null},"y":{"field":"r","type":"ordinal","scale":{"domain":[-1,0,1,2,3,4,5,6,7,8,9,10,11,12,13,14,15,16,17,18,19,20],"paddingInner":0,"paddingOuter":0},"axis":null},"text":{"field":"t","type":"nominal"}}},
     {"data":{"name":"hd"},"transform":[{"filter":"datum.g==='B4'&&datum.r===-1"}],"mark":{"type":"text","fontSize":11.5},"encoding":{"y":{"field":"r","type":"ordinal","scale":{"domain":[-1,0,1,2,3,4,5,6,7,8,9,10,11,12,13,14,15,16,17,18,19,20],"paddingInner":0,"paddingOuter":0},"axis":null},"text":{"field":"t","type":"nominal"}}},
     {"data":{"name":"tb"},"transform":[{"fold":["cl","cd"],"as":["k","t"]}],"mark":{"type":"text"},"encoding":{"x":{"field":"k","type":"nominal","scale":{"domain":["cl","cd"],"paddingInner":0,"paddingOuter":0},"axis":null},"y":{"field":"i","type":"ordinal","scale":{"domain":[-1,0,1,2,3,4,5,6,7,8,9,10,11,12,13,14,15,16,17,18,19,20],"paddingInner":0,"paddingOuter":0},"axis":null},"text":{"field":"t","type":"nominal"}}},
     {"data":{"name":"sep"},"mark":{"type":"rule","color":"#000000","strokeWidth":1.5},"encoding":{"y":{"field":"r","type":"ordinal","bandPosition":0,"scale":{"domain":[-1,0,1,2,3,4,5,6,7,8,9,10,11,12,13,14,15,16,17,18,19,20],"paddingInner":0,"paddingOuter":0},"axis":null}}},
     {"data":{"values":[{}]},"mark":{"type":"rect","filled":false,"stroke":"#000000","strokeWidth":1.5},"encoding":{}}
   ]},
   {"width":214,"height":380,"layer":[
     {"data":{"name":"tb"},"transform":[{"fold":["up","dn"],"as":["k","t"]}],"mark":{"type":"rect","fill":"#FFFFFF","stroke":"#808080","strokeWidth":1},"encoding":{"x":{"field":"k","type":"nominal","scale":{"domain":["up","dn"],"paddingInner":0,"paddingOuter":0},"axis":null},"y":{"field":"i","type":"ordinal","scale":{"domain":[-1,0,1,2,3,4,5,6,7,8,9,10,11,12,13,14,15,16,17,18,19,20],"paddingInner":0,"paddingOuter":0},"axis":null}}},
     {"data":{"name":"hd"},"transform":[{"filter":"datum.g==='C'&&datum.r===0"}],"mark":{"type":"rect","fill":"#FFFFFF","stroke":"#808080","strokeWidth":1},"encoding":{"x":{"field":"c","type":"nominal","scale":{"domain":["up","dn"],"paddingInner":0,"paddingOuter":0},"axis":null},"y":{"field":"r","type":"ordinal","scale":{"domain":[-1,0,1,2,3,4,5,6,7,8,9,10,11,12,13,14,15,16,17,18,19,20],"paddingInner":0,"paddingOuter":0},"axis":null}}},
     {"data":{"name":"hd"},"transform":[{"filter":"datum.g==='C'&&datum.r===-1"}],"mark":{"type":"rect","fill":"#FFFFFF","stroke":"#808080","strokeWidth":1},"encoding":{"y":{"field":"r","type":"ordinal","scale":{"domain":[-1,0,1,2,3,4,5,6,7,8,9,10,11,12,13,14,15,16,17,18,19,20],"paddingInner":0,"paddingOuter":0},"axis":null}}},
     {"data":{"name":"hd"},"transform":[{"filter":"datum.g==='C'&&datum.r===0"}],"mark":{"type":"text","fontSize":11},"encoding":{"x":{"field":"c","type":"nominal","scale":{"domain":["up","dn"],"paddingInner":0,"paddingOuter":0},"axis":null},"y":{"field":"r","type":"ordinal","scale":{"domain":[-1,0,1,2,3,4,5,6,7,8,9,10,11,12,13,14,15,16,17,18,19,20],"paddingInner":0,"paddingOuter":0},"axis":null},"text":{"field":"t","type":"nominal"}}},
     {"data":{"name":"hd"},"transform":[{"filter":"datum.g==='C'&&datum.r===-1"}],"mark":{"type":"text","fontSize":11.5},"encoding":{"y":{"field":"r","type":"ordinal","scale":{"domain":[-1,0,1,2,3,4,5,6,7,8,9,10,11,12,13,14,15,16,17,18,19,20],"paddingInner":0,"paddingOuter":0},"axis":null},"text":{"field":"t","type":"nominal"}}},
     {"data":{"name":"tb"},"transform":[{"fold":["up","dn"],"as":["k","t"]}],"mark":{"type":"text"},"encoding":{"x":{"field":"k","type":"nominal","scale":{"domain":["up","dn"],"paddingInner":0,"paddingOuter":0},"axis":null},"y":{"field":"i","type":"ordinal","scale":{"domain":[-1,0,1,2,3,4,5,6,7,8,9,10,11,12,13,14,15,16,17,18,19,20],"paddingInner":0,"paddingOuter":0},"axis":null},"text":{"field":"t","type":"nominal"}}},
     {"data":{"name":"sep"},"mark":{"type":"rule","color":"#000000","strokeWidth":1.5},"encoding":{"y":{"field":"r","type":"ordinal","bandPosition":0,"scale":{"domain":[-1,0,1,2,3,4,5,6,7,8,9,10,11,12,13,14,15,16,17,18,19,20],"paddingInner":0,"paddingOuter":0},"axis":null}}},
     {"data":{"values":[{}]},"mark":{"type":"rect","filled":false,"stroke":"#000000","strokeWidth":1.5},"encoding":{}}
   ]},
   {"width":206,"height":380,"layer":[
     {"data":{"name":"tb"},"transform":[{"fold":["wt","wl"],"as":["k","t"]}],"mark":{"type":"rect","fill":"#FFFFFF","stroke":"#808080","strokeWidth":1},"encoding":{"x":{"field":"k","type":"nominal","scale":{"domain":["wt","wl"],"paddingInner":0,"paddingOuter":0},"axis":null},"y":{"field":"i","type":"ordinal","scale":{"domain":[-1,0,1,2,3,4,5,6,7,8,9,10,11,12,13,14,15,16,17,18,19,20],"paddingInner":0,"paddingOuter":0},"axis":null}}},
     {"data":{"name":"tb"},"transform":[{"fold":["wt"],"as":["k","t"]},{"filter":"parseFloat(datum.t)<0"}],"mark":{"type":"rect","fill":"#5BC5F2","stroke":"#808080","strokeWidth":1},"encoding":{"x":{"field":"k","type":"nominal","scale":{"domain":["wt","wl"],"paddingInner":0,"paddingOuter":0},"axis":null},"y":{"field":"i","type":"ordinal","scale":{"domain":[-1,0,1,2,3,4,5,6,7,8,9,10,11,12,13,14,15,16,17,18,19,20],"paddingInner":0,"paddingOuter":0},"axis":null}}},
     {"data":{"name":"tb"},"transform":[{"fold":["wt"],"as":["k","t"]},{"filter":"parseFloat(datum.t)>0"}],"mark":{"type":"rect","fill":"#FF99FF","stroke":"#808080","strokeWidth":1},"encoding":{"x":{"field":"k","type":"nominal","scale":{"domain":["wt","wl"],"paddingInner":0,"paddingOuter":0},"axis":null},"y":{"field":"i","type":"ordinal","scale":{"domain":[-1,0,1,2,3,4,5,6,7,8,9,10,11,12,13,14,15,16,17,18,19,20],"paddingInner":0,"paddingOuter":0},"axis":null}}},
     {"data":{"name":"hd"},"transform":[{"filter":"datum.g==='D'&&datum.r===0"}],"mark":{"type":"rect","fill":"#FFFFFF","stroke":"#808080","strokeWidth":1},"encoding":{"x":{"field":"c","type":"nominal","scale":{"domain":["wt","wl"],"paddingInner":0,"paddingOuter":0},"axis":null},"y":{"field":"r","type":"ordinal","scale":{"domain":[-1,0,1,2,3,4,5,6,7,8,9,10,11,12,13,14,15,16,17,18,19,20],"paddingInner":0,"paddingOuter":0},"axis":null}}},
     {"data":{"name":"hd"},"transform":[{"filter":"datum.g==='D'&&datum.r===-1"}],"mark":{"type":"rect","fill":"#FFFFFF","stroke":"#808080","strokeWidth":1},"encoding":{"y":{"field":"r","type":"ordinal","scale":{"domain":[-1,0,1,2,3,4,5,6,7,8,9,10,11,12,13,14,15,16,17,18,19,20],"paddingInner":0,"paddingOuter":0},"axis":null}}},
     {"data":{"name":"hd"},"transform":[{"filter":"datum.g==='D'&&datum.r===0"}],"mark":{"type":"text","fontSize":11},"encoding":{"x":{"field":"c","type":"nominal","scale":{"domain":["wt","wl"],"paddingInner":0,"paddingOuter":0},"axis":null},"y":{"field":"r","type":"ordinal","scale":{"domain":[-1,0,1,2,3,4,5,6,7,8,9,10,11,12,13,14,15,16,17,18,19,20],"paddingInner":0,"paddingOuter":0},"axis":null},"text":{"field":"t","type":"nominal"}}},
     {"data":{"name":"hd"},"transform":[{"filter":"datum.g==='D'&&datum.r===-1"}],"mark":{"type":"text","fontSize":11.5},"encoding":{"y":{"field":"r","type":"ordinal","scale":{"domain":[-1,0,1,2,3,4,5,6,7,8,9,10,11,12,13,14,15,16,17,18,19,20],"paddingInner":0,"paddingOuter":0},"axis":null},"text":{"field":"t","type":"nominal"}}},
     {"data":{"name":"tb"},"transform":[{"fold":["wt","wl"],"as":["k","t"]}],"mark":{"type":"text"},"encoding":{"x":{"field":"k","type":"nominal","scale":{"domain":["wt","wl"],"paddingInner":0,"paddingOuter":0},"axis":null},"y":{"field":"i","type":"ordinal","scale":{"domain":[-1,0,1,2,3,4,5,6,7,8,9,10,11,12,13,14,15,16,17,18,19,20],"paddingInner":0,"paddingOuter":0},"axis":null},"text":{"field":"t","type":"nominal"}}},
     {"data":{"name":"sep"},"mark":{"type":"rule","color":"#000000","strokeWidth":1.5},"encoding":{"y":{"field":"r","type":"ordinal","bandPosition":0,"scale":{"domain":[-1,0,1,2,3,4,5,6,7,8,9,10,11,12,13,14,15,16,17,18,19,20],"paddingInner":0,"paddingOuter":0},"axis":null}}},
     {"data":{"values":[{}]},"mark":{"type":"rect","filled":false,"stroke":"#000000","strokeWidth":1.5},"encoding":{}}
   ]}
 ],"spacing":0,"bounds":"flush"}
]
}
